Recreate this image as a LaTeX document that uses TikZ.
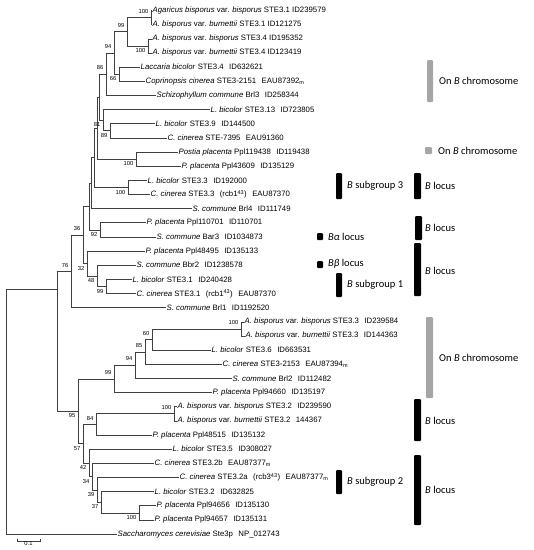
\documentclass[tikz,border=0pt]{standalone}
\usepackage{fontspec}
\setmainfont{Liberation Sans}
\newfontfamily\tagfont{Carlito}
\usetikzlibrary{calc}
\newcommand{\rw}[1]{{14.15*(#1)-3.65}}
\newcommand{\gap}{\hspace{0.7em}}
\newcommand{\sm}{\textsubscript{m}}

\begin{document}
\begin{tikzpicture}[x=1pt, y=-1pt,
	leaf/.style={anchor=west, inner sep=1pt, font=\fontsize{7.8}{9}\selectfont},
	boot/.style={inner sep=0.5pt, font=\fontsize{5.8}{7}\selectfont},
	bootup/.style={boot, anchor=south east, xshift=-2pt, yshift=3.5pt},
	bootdn/.style={boot, anchor=north east, xshift=-2pt, yshift=-2pt},
	branch/.style={line width=0.6pt, draw=black!75},
	greybar/.style={fill=black!35, rounded corners=1pt},
	blackbar/.style={fill=black, rounded corners=1pt},
	tag/.style={anchor=west, inner sep=0pt, font=\tagfont\fontsize{10.5}{12}\selectfont}]
	\useasboundingbox (0,0) rectangle (534,550);

	% leaves
	\node[leaf] (l1) at (151.5,\rw{1}) {\textit{Agaricus bisporus} var. \textit{bisporus} STE3.1 ID239579};
	\node[leaf] (l2) at (151.5,\rw{2}) {\textit{A. bisporus} var. \textit{burnettii} STE3.1 ID121275};
	\node[leaf] (l3) at (151.5,\rw{3}) {\textit{A. bisporus} var. \textit{bisporus} STE3.4 ID195352};
	\node[leaf] (l4) at (151.5,\rw{4}) {\textit{A. bisporus} var. \textit{burnettii} STE3.4 ID123419};
	\node[leaf] (l5) at (139.5,\rw{5}) {\textit{Laccaria bicolor} STE3.4\gap ID632621};
	\node[leaf] (l6) at (144.5,\rw{6}) {\textit{Coprinopsis cinerea} STE3-2151\gap EAU87392\sm};
	\node[leaf] (l7) at (155.5,\rw{7}) {\textit{Schizophyllum commune} Brl3\gap ID258344};
	\node[leaf] (l8) at (209.5,\rw{8}) {\textit{L. bicolor} STE3.13\gap ID723805};
	\node[leaf] (l9) at (154.5,\rw{9}) {\textit{L. bicolor} STE3.9\gap ID144500};
	\node[leaf] (l10) at (166.5,\rw{10}) {\textit{C. cinerea} STE-7395\gap EAU91360};
	\node[leaf] (l11) at (177.5,\rw{11}) {\textit{Postia placenta} Ppl119438\gap ID119438};
	\node[leaf] (l12) at (180.5,\rw{12}) {\textit{P. placenta} Ppl43609\gap ID135129};
	\node[leaf] (l13) at (146.5,\rw{13}) {\textit{L. bicolor} STE3.3\gap ID192000};
	\node[leaf] (l14) at (149.5,\rw{14}) {\textit{C. cinerea} STE3.3\gap(rcb1\textsuperscript{43})\gap EAU87370};
	\node[leaf] (l15) at (191.5,\rw{15}) {\textit{S. commune} Brl4\gap ID111749};
	\node[leaf] (l16) at (145.5,\rw{16}) {\textit{P. placenta} Ppl110701\gap ID110701};
	\node[leaf] (l17) at (155.5,\rw{17}) {\textit{S. commune} Bar3\gap ID1034873};
	\node[leaf] (l18) at (144.5,\rw{18}) {\textit{P. placenta} Ppl48495\gap ID135133};
	\node[leaf] (l19) at (135.5,\rw{19}) {\textit{S. commune} Bbr2\gap ID1238578};
	\node[leaf] (l20) at (131.5,\rw{20}) {\textit{L. bicolor} STE3.1\gap ID240428};
	\node[leaf] (l21) at (135.5,\rw{21}) {\textit{C. cinerea} STE3.1\gap(rcb1\textsuperscript{43})\gap EAU87370};
	\node[leaf] (l22) at (165.5,\rw{22}) {\textit{S. commune} Brl1\gap ID1192520};
	\node[leaf] (l23) at (243.5,\rw{23}) {\textit{A. bisporus} var. \textit{bisporus} STE3.3\gap ID239584};
	\node[leaf] (l24) at (244.5,\rw{24}) {\textit{A. bisporus} var. \textit{burnettii} STE3.3\gap ID144363};
	\node[leaf] (l25) at (210.5,\rw{25}) {\textit{L. bicolor} STE3.6\gap ID663531};
	\node[leaf] (l26) at (221.5,\rw{26}) {\textit{C. cinerea} STE3-2153\gap EAU87394\sm};
	\node[leaf] (l27) at (231.5,\rw{27}) {\textit{S. commune} Brl2\gap ID112482};
	\node[leaf] (l28) at (211.5,\rw{28}) {\textit{P. placenta} Ppl94660\gap ID135197};
	\node[leaf] (l29) at (176.5,\rw{29}) {\textit{A. bisporus} var. \textit{bisporus} STE3.2\gap ID239590};
	\node[leaf] (l30) at (176.5,\rw{30}) {\textit{A. bisporus} var. \textit{burnettii} STE3.2\gap 144367};
	\node[leaf] (l31) at (151.5,\rw{31}) {\textit{P. placenta} Ppl48515\gap ID135132};
	\node[leaf] (l32) at (171.5,\rw{32}) {\textit{L. bicolor} STE3.5\gap ID308027};
	\node[leaf] (l33) at (153.5,\rw{33}) {\textit{C. cinerea} STE3.2b\gap EAU87377\sm};
	\node[leaf] (l34) at (178.5,\rw{34}) {\textit{C. cinerea} STE3.2a\gap(rcb3\textsuperscript{43})\gap EAU87377\sm};
	\node[leaf] (l35) at (153.5,\rw{35}) {\textit{L. bicolor} STE3.2\gap ID632825};
	\node[leaf] (l36) at (155.5,\rw{36}) {\textit{P. placenta} Ppl94656\gap ID135130};
	\node[leaf] (l37) at (153.5,\rw{37}) {\textit{P. placenta} Ppl94657\gap ID135131};
	\node[leaf] (l38) at (116.5,\rw{38}) {\textit{Saccharomyces cerevisiae} Ste3p\gap NP\_012743};

	% internal nodes
	\coordinate (n100a) at (151,\rw{1.5});
	\coordinate (n100b) at (148,\rw{3.5});
	\coordinate (n99a) at (127,\rw{2.5});
	\coordinate (n66) at (119,\rw{5.5});
	\coordinate (n94a) at (114,\rw{4});
	\coordinate (n86) at (106,\rw{5.5});
	\coordinate (n89) at (110,\rw{9.5});
	\coordinate (n81) at (103,\rw{8.75});
	\coordinate (nB) at (99,\rw{7.125});
	\coordinate (n100c) at (136,\rw{11.5});
	\coordinate (nC) at (97,\rw{9.3125});
	\coordinate (n100d) at (128,\rw{13.5});
	\coordinate (nD) at (94,\rw{11.406});
	\coordinate (nE) at (91,\rw{13.203});
	\coordinate (n92) at (100,\rw{16.5});
	\coordinate (nF) at (89,\rw{14.852});
	\coordinate (n99b) at (106,\rw{20.5});
	\coordinate (n48) at (97,\rw{19.75});
	\coordinate (n32) at (87,\rw{18.875});
	\coordinate (n36) at (83,\rw{16.863});
	\coordinate (n76) at (71,\rw{19.43});
	\coordinate (n100e) at (241,\rw{23.5});
	\coordinate (n60) at (152,\rw{24.25});
	\coordinate (n85) at (145,\rw{25.125});
	\coordinate (n94b) at (135,\rw{26.06});
	\coordinate (n99c) at (114,\rw{27.03});
	\coordinate (n100f) at (174,\rw{29.5});
	\coordinate (n84) at (96,\rw{30.25});
	\coordinate (n100g) at (139,\rw{36.5});
	\coordinate (n37) at (101,\rw{35.75});
	\coordinate (n39) at (97,\rw{34.875});
	\coordinate (n34) at (92,\rw{33.94});
	\coordinate (n42) at (89,\rw{32.97});
	\coordinate (n57) at (83,\rw{31.61});
	\coordinate (n95) at (78,\rw{29.32});
	\coordinate (nIn) at (57,289);
	\coordinate (nRoot) at (6,\rw{31});

	% branches
	\draw[branch] (n100a) |- (l1.west) (n100a) |- (l2.west);
	\draw[branch] (n100b) |- (l3.west) (n100b) |- (l4.west);
	\draw[branch] (n99a) |- (n100a) (n99a) |- (n100b);
	\draw[branch] (n66) |- (l5.west) (n66) |- (l6.west);
	\draw[branch] (n94a) |- (n99a) (n94a) |- (n66);
	\draw[branch] (n86) |- (n94a) (n86) |- (l7.west);
	\draw[branch] (n89) |- (l9.west) (n89) |- (l10.west);
	\draw[branch] (n81) |- (l8.west) (n81) |- (n89);
	\draw[branch] (nB) |- (n86) (nB) |- (n81);
	\draw[branch] (n100c) |- (l11.west) (n100c) |- (l12.west);
	\draw[branch] (nC) |- (nB) (nC) |- (n100c);
	\draw[branch] (n100d) |- (l13.west) (n100d) |- (l14.west);
	\draw[branch] (nD) |- (nC) (nD) |- (n100d);
	\draw[branch] (nE) |- (nD) (nE) |- (l15.west);
	\draw[branch] (n92) |- (l16.west) (n92) |- (l17.west);
	\draw[branch] (nF) |- (nE) (nF) |- (n92);
	\draw[branch] (n99b) |- (l20.west) (n99b) |- (l21.west);
	\draw[branch] (n48) |- (l19.west) (n48) |- (n99b);
	\draw[branch] (n32) |- (l18.west) (n32) |- (n48);
	\draw[branch] (n36) |- (nF) (n36) |- (n32);
	\draw[branch] (n76) |- (n36) (n76) |- (l22.west);
	\draw[branch] (n100e) |- (l23.west) (n100e) |- (l24.west);
	\draw[branch] (n60) |- (n100e) (n60) |- (l25.west);
	\draw[branch] (n85) |- (n60) (n85) |- (l26.west);
	\draw[branch] (n94b) |- (n85) (n94b) |- (l27.west);
	\draw[branch] (n99c) |- (n94b) (n99c) |- (l28.west);
	\draw[branch] (n100f) |- (l29.west) (n100f) |- (l30.west);
	\draw[branch] (n84) |- (n100f) (n84) |- (l31.west);
	\draw[branch] (n100g) |- (l36.west) (n100g) |- (l37.west);
	\draw[branch] (n37) |- (l35.west) (n37) |- (n100g);
	\draw[branch] (n39) |- (l34.west) (n39) |- (n37);
	\draw[branch] (n34) |- (l33.west) (n34) |- (n39);
	\draw[branch] (n42) |- (l32.west) (n42) |- (n34);
	\draw[branch] (n57) |- (n84) (n57) |- (n42);
	\draw[branch] (n95) |- (n99c) (n95) |- (n57);
	\draw[branch] (nIn) |- (n76) (nIn) |- (n95);
	\draw[branch] (nRoot) |- (nIn) (nRoot) |- (l38.west);

	% bootstrap values
	\node[bootup] (b100a) at (n100a) {100};
	\node[bootdn] (b100b) at (n100b) {100};
	\node[bootup] (b99a) at (n99a) {99};
	\node[bootdn] (b66) at (n66) {66};
	\node[bootup] (b94a) at (n94a) {94};
	\node[bootup] (b86) at (n86) {86};
	\node[bootdn] (b81) at (n81) {81};
	\node[bootdn] (b89) at (n89) {89};
	\node[bootdn] (b100c) at (n100c) {100};
	\node[bootdn] (b100d) at (n100d) {100};
	\node[bootup] (b36) at (n36) {36};
	\node[bootdn] (b92) at (n92) {92};
	\node[bootup] (b76) at (n76) {76};
	\node[bootdn] (b32) at (n32) {32};
	\node[bootdn] (b48) at (n48) {48};
	\node[bootdn] (b99b) at (n99b) {99};
	\node[bootup] (b100e) at (n100e) {100};
	\node[bootup] (b60) at (n60) {60};
	\node[bootup] (b85) at (n85) {85};
	\node[bootup] (b94b) at (n94b) {94};
	\node[bootup] (b99c) at (n99c) {99};
	\node[bootup] (b100f) at (n100f) {100};
	\node[bootup] (b84) at (n84) {84};
	\node[bootdn] (b95) at (n95) {95};
	\node[bootdn] (b57) at (n57) {57};
	\node[bootdn] (b42) at (n42) {42};
	\node[bootdn] (b34) at (n34) {34};
	\node[bootdn] (b39) at (n39) {39};
	\node[bootdn] (b37) at (n37) {37};
	\node[bootdn] (b100g) at (n100g) {100};

	% scale bar
	\coordinate (sbl) at (17,541);
	\coordinate (sbr) at (40,541);
	\draw[branch] (sbl) ++(0,-2.5) -- (sbl) -- (sbr) -- ++(0,-2.5);
	\node[boot, anchor=north] (sbt) at ($(sbl)!.5!(sbr)$) {0.1};

	% loci
	\fill[greybar] (427,60) rectangle (433,102);
	\node[tag] (tchr1) at (439,81) {On \textit{B} chromosome};
	\fill[greybar] (425,147) rectangle (432,154);
	\node[tag] (tchr2) at (438,151) {On \textit{B} chromosome};
	\fill[blackbar] (336,173) rectangle (342,199);
	\node[tag] (tsub3) at (347,186) {\textit{B} subgroup 3};
	\fill[blackbar] (414,173) rectangle (421,199);
	\node[tag] (tloc1) at (425,186) {\textit{B} locus};
	\fill[blackbar] (415,216) rectangle (422,240);
	\node[tag] (tloc2) at (425,228) {\textit{B} locus};
	\fill[blackbar] (317,233) rectangle (323,240);
	\node[tag] (talpha) at (328,237) {\textit{Bα} locus};
	\fill[blackbar] (414,243) rectangle (421,296);
	\node[tag] (tloc3) at (425,271) {\textit{B} locus};
	\fill[blackbar] (317,261) rectangle (323,268);
	\node[tag] (tbeta) at (328,264) {\textit{Bβ} locus};
	\fill[blackbar] (336,273) rectangle (342,297);
	\node[tag] (tsub1) at (347,285) {\textit{B} subgroup 1};
	\fill[greybar] (426,317) rectangle (433,398);
	\node[tag] (tchr3) at (439,358) {On \textit{B} chromosome};
	\fill[blackbar] (414,399) rectangle (421,441);
	\node[tag] (tloc4) at (425,421) {\textit{B} locus};
	\fill[blackbar] (336,470) rectangle (342,494);
	\node[tag] (tsub2) at (347,482) {\textit{B} subgroup 2};
	\fill[blackbar] (414,455) rectangle (421,525);
	\node[tag] (tloc5) at (425,490) {\textit{B} locus};
\end{tikzpicture}
\end{document}
